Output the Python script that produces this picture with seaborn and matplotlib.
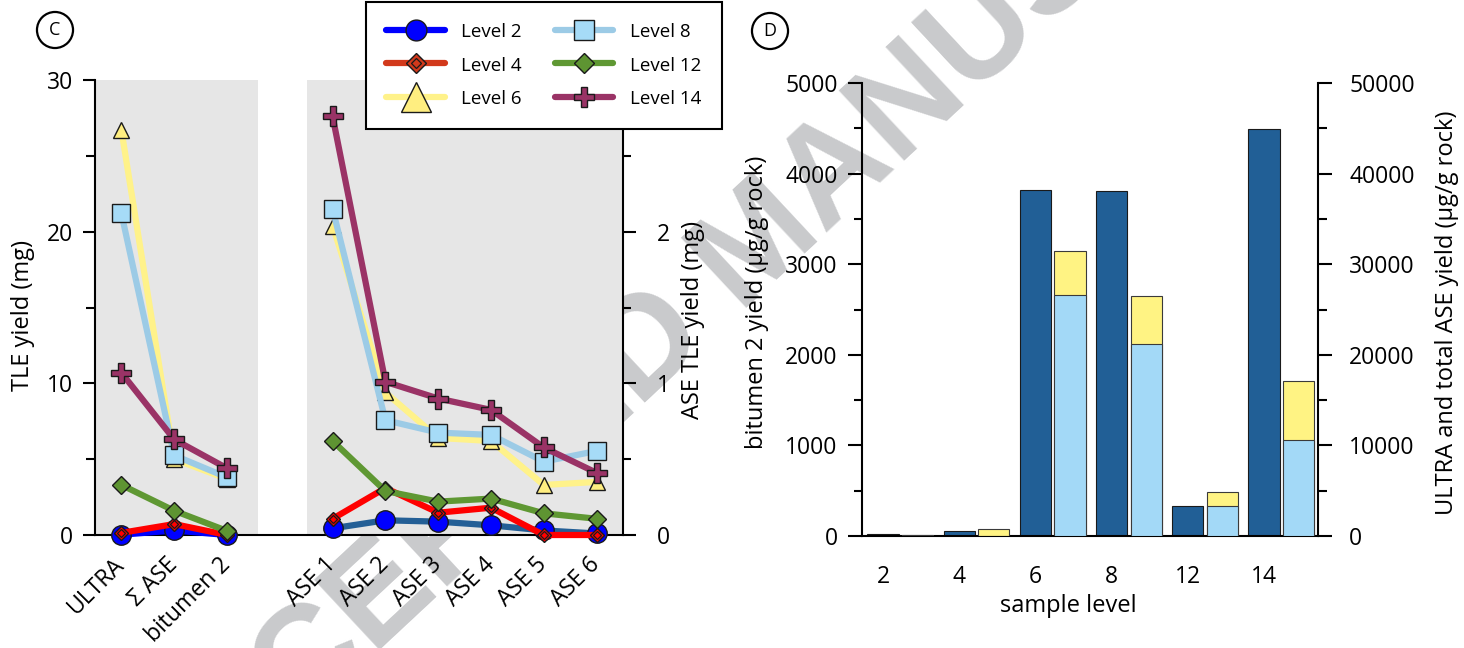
import numpy as np
import pandas as pd
import matplotlib
matplotlib.use("Agg")
import matplotlib.pyplot as plt
import seaborn as sns
from matplotlib.lines import Line2D
from matplotlib.ticker import MultipleLocator, FixedLocator, FormatStrFormatter

# ---------------- data: panel C ----------------
levels = ["Level 2", "Level 4", "Level 6", "Level 8", "Level 12", "Level 14"]
left_categories = ["ULTRA", "Σ ASE", "bitumen 2"]
ase_categories = ["ASE 1", "ASE 2", "ASE 3", "ASE 4", "ASE 5", "ASE 6"]

# TLE yield (mg): ULTRA, sum ASE, bitumen 2
tle_level2 = [0.02, 0.3, 0.0]
tle_level4 = [0.14, 0.72, 0.0]
tle_level6 = [26.7, 5.0, 3.7]
tle_level8 = [21.2, 5.25, 3.8]
tle_level12 = [3.3, 1.6, 0.27]
tle_level14 = [10.7, 6.3, 4.4]

# ASE TLE yield (mg): ASE 1..6
ase_level2 = [0.044, 0.097, 0.088, 0.064, 0.03, 0.01]
ase_level4 = [0.107, 0.31, 0.147, 0.18, 0.0, 0.0]
ase_level6 = [2.04, 0.94, 0.64, 0.62, 0.33, 0.35]
ase_level8 = [2.15, 0.757, 0.675, 0.66, 0.484, 0.554]
ase_level12 = [0.62, 0.29, 0.22, 0.24, 0.143, 0.107]
ase_level14 = [2.76, 1.01, 0.90, 0.825, 0.577, 0.41]

# ---------------- data: panel D ----------------
sample_levels = ["2", "4", "6", "8", "12", "14"]
bitumen2_yield = [20, 60, 3820, 3810, 330, 4490]              # left axis
ultra_yield = [0, 0, 26600, 21200, 3300, 10650]               # right axis
ultra_plus_ase_yield = [150, 770, 31500, 26500, 4900, 17100]  # right axis (top of stack)

# ---------------- styles ----------------
sns.set_theme(style="ticks")
plt.rcParams["font.family"] = ["Open Sans", "DejaVu Sans"]
plt.rcParams.update({
    "axes.edgecolor": "black", "xtick.color": "black", "ytick.color": "black",
    "text.color": "black", "axes.labelcolor": "black", "axes.linewidth": 1.5,
})

styles = {
    "Level 2": dict(left_line="#0000ff", ase_line="#245f96", marker="o", ms=14, mfc="#0000ff",
                    leg_line="#0000ff", leg_mfc="#0000ff", leg_ms=15),
    "Level 4": dict(left_line="#ff0000", ase_line="#ff0000", marker="D", ms=7.6, mfc="#ff0000",
                    leg_line="#d2391b", leg_mfc="#d2391b", leg_ms=10),
    "Level 6": dict(left_line="#fff28a", ase_line="#fff28a", marker="^", ms=12, mfc="#ffee80",
                    leg_line="#fff28a", leg_mfc="#ffee80", leg_ms=21),
    "Level 8": dict(left_line="#9ccbe6", ase_line="#9ccbe6", marker="s", ms=13.5, mfc="#a6dbf7",
                    leg_line="#9ccbe6", leg_mfc="#a6dbf7", leg_ms=14.5),
    "Level 12": dict(left_line="#5f9833", ase_line="#5f9833", marker="D", ms=9, mfc="#5e9432",
                     leg_line="#5f9833", leg_mfc="#5e9432", leg_ms=10),
    "Level 14": dict(left_line="#9a3366", ase_line="#9a3366", marker="P", ms=14, mfc="#9a3366",
                     leg_line="#9a3366", leg_mfc="#9a3366", leg_ms=14.5),
}
tle_series = [tle_level2, tle_level4, tle_level6, tle_level8, tle_level12, tle_level14]
ase_series = [ase_level2, ase_level4, ase_level6, ase_level8, ase_level12, ase_level14]

W, H = 1464, 648
fig = plt.figure(figsize=(W / 100, H / 100), dpi=100)
fx = lambda px: px / W
fy = lambda py: 1 - py / H

# watermark behind everything
fig.text(fx(785), fy(272), "ACCEPTED MANUSCRIPT", rotation=43, rotation_mode="anchor",
         ha="center", va="baseline", fontsize=100, fontweight="bold",
         family="Liberation Sans", color="#c9cacc", zorder=-10)

axC = fig.add_axes([fx(95), fy(535), (623 - 95) / W, (535 - 80) / H])
axC2 = axC.twinx()
axD = fig.add_axes([fx(862), fy(536), (1318 - 862) / W, (536 - 83) / H])
axD2 = axD.twinx()
for a in (axC, axC2, axD, axD2):
    a.set_facecolor("none")
    a.grid(False)

# ---------------- panel C ----------------
left_pos = np.arange(len(left_categories))
ase_pos = np.arange(len(ase_categories)) + len(left_categories) + 1

axC.axvspan(-0.5, 2.585, color="#e6e6e6", lw=0, zorder=0)
axC.axvspan(3.51, 9.5, color="#e6e6e6", lw=0, zorder=0)

for lev, tle, ase in zip(levels, tle_series, ase_series):
    st = styles[lev]
    for ax, xs, ys, lc in ((axC, left_pos, tle, st["left_line"]),
                           (axC2, ase_pos, ase, st["ase_line"])):
        sns.lineplot(x=xs, y=ys, ax=ax, color=lc, lw=4.5, marker=st["marker"],
                     markersize=st["ms"], markerfacecolor=st["mfc"], markeredgecolor="#1a1a1a",
                     markeredgewidth=1.0, solid_capstyle="round", solid_joinstyle="round",
                     clip_on=False, legend=False, zorder=3)
        if lev == "Level 4":
            ax.plot(xs, ys, ls="none", marker="D", markersize=st["ms"] * 0.5,
                    markerfacecolor=st["mfc"], markeredgecolor="#1a1a1a",
                    markeredgewidth=0.9, clip_on=False, zorder=3)

axC.set_xlim(-0.5, 9.5)
axC.set_ylim(0, 30)
axC2.set_ylim(0, 3)
axC.set_xticks(np.concatenate([left_pos, ase_pos]))
axC.set_xticklabels(left_categories + ase_categories)
for lbl in axC.get_xticklabels():
    lbl.set_rotation(45)
    lbl.set_ha("right")
    lbl.set_va("center")
    lbl.set_rotation_mode("anchor")
axC.tick_params(axis="x", length=0, pad=19, labelsize=16.5)
axC.yaxis.set_major_locator(MultipleLocator(10))
axC.yaxis.set_minor_locator(MultipleLocator(5))
axC.tick_params(axis="y", which="major", length=8.6, width=1.5, pad=7, labelsize=16.5)
axC.tick_params(axis="y", which="minor", length=6.5, width=1.5)
axC2.yaxis.set_major_locator(FixedLocator([0, 1, 2]))
axC2.yaxis.set_minor_locator(FixedLocator([0.5, 1.5, 2.5]))
axC2.yaxis.set_major_formatter(FormatStrFormatter("%d"))
axC2.tick_params(axis="y", which="major", length=9, width=1.5, pad=15.5, labelsize=16.5)
axC2.tick_params(axis="y", which="minor", length=6, width=1.5)
for s in ("top", "right"):
    axC.spines[s].set_visible(False)
for s in ("top", "left", "bottom"):
    axC2.spines[s].set_visible(False)
axC2.spines["right"].set_linewidth(1.5)

axC.set_ylabel("TLE yield (mg)", fontsize=17)
axC.yaxis.set_label_coords(fx(23), fy(315), transform=fig.transFigure)
axC.yaxis.label.set_va("center")
axC2.set_ylabel("ASE TLE yield (mg)", fontsize=17)
axC2.yaxis.set_label_coords(fx(693), fy(320), transform=fig.transFigure)
axC2.yaxis.label.set_va("center")
axC2.yaxis.label.set_rotation(90)

# ---------------- panel D ----------------
pos = np.arange(len(sample_levels))
dfD = pd.DataFrame({"pos": pos, "pos2": pos + 0.454, "bitumen2": bitumen2_yield,
                    "ultra": ultra_yield, "total": ultra_plus_ase_yield})
sns.barplot(data=dfD, x="pos", y="bitumen2", native_scale=True, width=0.41, color="#215f96",
            saturation=1, edgecolor="#1a1a1a", linewidth=0.8, errorbar=None, ax=axD)
sns.barplot(data=dfD, x="pos2", y="total", native_scale=True, width=0.41, color="#fff383",
            saturation=1, edgecolor="#3a3a3a", linewidth=0.8, errorbar=None, ax=axD2)
sns.barplot(data=dfD, x="pos2", y="ultra", native_scale=True, width=0.41, color="#a3d9f7",
            saturation=1, edgecolor="#3a3a3a", linewidth=0.8, errorbar=None, ax=axD2)

axD.set_xlim(-0.276, 5.71)
axD2.set_xlim(-0.276, 5.71)
axD.set_ylim(0, 5000)
axD2.set_ylim(0, 50000)
axD.set_xticks(pos)
axD.set_xticklabels(sample_levels)
axD.tick_params(axis="x", length=0, pad=21, labelsize=16.5)
axD.yaxis.set_major_locator(MultipleLocator(1000))
axD.yaxis.set_minor_locator(MultipleLocator(500))
axD.tick_params(axis="y", which="major", length=10, width=1.5, pad=7.5, labelsize=16.5)
axD.tick_params(axis="y", which="minor", length=6, width=1.5)
axD2.yaxis.set_major_locator(MultipleLocator(10000))
axD2.yaxis.set_minor_locator(MultipleLocator(5000))
axD2.tick_params(axis="y", which="major", length=10, width=1.5, pad=12.5, labelsize=16.5)
axD2.tick_params(axis="y", which="minor", length=6.5, width=1.5)
for s in ("top", "right"):
    axD.spines[s].set_visible(False)
for s in ("top", "left", "bottom"):
    axD2.spines[s].set_visible(False)
axD2.spines["right"].set_linewidth(1.5)

axD.set_xlabel("sample level", fontsize=17)
axD.xaxis.set_label_coords(fx(1068), fy(606), transform=fig.transFigure)
axD.xaxis.label.set_va("center")
axD.set_ylabel("bitumen 2 yield (µg/g rock)", fontsize=17)
axD.yaxis.set_label_coords(fx(757), fy(302), transform=fig.transFigure)
axD.yaxis.label.set_va("center")
axD2.set_ylabel("ULTRA and total ASE yield (µg/g rock)", fontsize=17)
axD2.yaxis.set_label_coords(fx(1447), fy(313), transform=fig.transFigure)
axD2.yaxis.label.set_va("center")
axD2.yaxis.label.set_rotation(90)

# ---------------- legend ----------------
handles = []
for lev in levels:
    st = styles[lev]
    h = Line2D([], [], color=st["leg_line"], lw=4.5, solid_capstyle="round",
               marker=st["marker"], markersize=st["leg_ms"], markerfacecolor=st["leg_mfc"],
               markeredgecolor="#1a1a1a", markeredgewidth=1.0)
    if lev == "Level 4":
        inner = Line2D([], [], ls="none", marker="D", markersize=st["leg_ms"] * 0.5,
                       markerfacecolor=st["leg_mfc"], markeredgecolor="#1a1a1a",
                       markeredgewidth=0.9)
        h = (h, inner)
    handles.append(h)
leg = fig.legend(handles, levels, ncol=2, loc="upper left",
                 bbox_to_anchor=(fx(366), fy(2)), borderaxespad=0, frameon=True,
                 fancybox=False, edgecolor="black", framealpha=1, facecolor="white",
                 fontsize=13.5, handlelength=3.1, handletextpad=0.9, columnspacing=1.75,
                 handleheight=1.0, labelspacing=0.78, borderpad=1.09)
leg.get_frame().set_linewidth(1.5)

# ---------------- panel tags ----------------
for tag, (cx, cy) in (("C", (55, 30)), ("D", (770, 31))):
    fig.text(fx(cx), fy(cy), tag, ha="center", va="center", fontsize=13,
             bbox=dict(boxstyle="circle,pad=0.5", fc="white", ec="black", lw=1.6))

fig.savefig("out.png", dpi=100)
